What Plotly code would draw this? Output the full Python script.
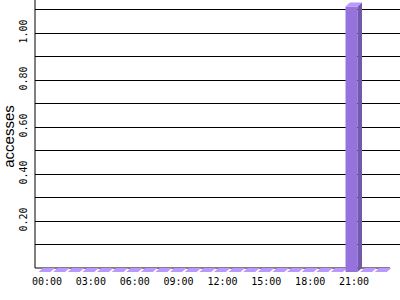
import plotly.graph_objects as go

# ---- data ----
hours = list(range(24))
accesses = [0, 0, 0, 0, 0, 0, 0, 0, 0, 0, 0, 0, 0, 0, 0, 0, 0, 0, 0, 0, 0, 1.13, 0, 0]
x_tickvals = [0, 3, 6, 9, 12, 15, 18, 21]
x_ticktext = ["00:00", "03:00", "06:00", "09:00", "12:00", "15:00", "18:00", "21:00"]
y_tickvals = [0.1, 0.2, 0.3, 0.4, 0.5, 0.6, 0.7, 0.8, 0.9, 1.0, 1.1]
y_ticktext = ["", "0.20", "", "0.40", "", "0.60", "", "0.80", "", "1.00", ""]

# ---- geometry (pixels) ----
W, H = 400, 300
ML, MR, MT, MB = 35, 0, 0, 27
PW, PH = W - ML - MR, H - MT - MB
PX_X = 14.62          # pixels per hour
PX_Y = 235.0          # pixels per access unit
x_lo = -12 / PX_X
x_hi = x_lo + PW / PX_X
y_lo = -5 / PX_Y
y_hi = y_lo + PH / PX_Y

# bar geometry in data units
fx0 = -8.5 / PX_X     # front face left (relative to hour)
fx1 = 3.5 / PX_X      # front face right
ddx = 4.5 / PX_X      # depth offset x
ddy = 4.0 / PX_Y      # depth offset y

FRONT = "rgb(150,114,221)"
SIDE = "rgb(114,89,172)"
TOP = "rgb(186,152,255)"

def poly(pts):
    return "M " + " L ".join(f"{px},{py}" for px, py in pts) + " Z"

shapes = []
for h, v in zip(hours, accesses):
    a, b = h + fx0, h + fx1
    yf0 = -ddy          # front bottom
    yf1 = v - ddy       # front top
    if v > 0:
        shapes.append(dict(type="path", xref="x", yref="y", layer="above",
                           path=poly([(a, yf0), (b, yf0), (b, yf1), (a, yf1)]),
                           fillcolor=FRONT, line=dict(width=0)))
        shapes.append(dict(type="path", xref="x", yref="y", layer="above",
                           path=poly([(b, yf0), (b + ddx, yf0 + ddy), (b + ddx, v), (b, yf1)]),
                           fillcolor=SIDE, line=dict(width=0)))
    shapes.append(dict(type="path", xref="x", yref="y", layer="above",
                       path=poly([(a, yf1), (b, yf1), (b + ddx, v), (a + ddx, v)]),
                       fillcolor=TOP, line=dict(width=0)))

# baseline and y axis line
shapes.append(dict(type="line", xref="paper", yref="y", x0=0, x1=(390 - ML) / PW,
                   y0=0, y1=0, line=dict(color="black", width=1), layer="below"))
shapes.append(dict(type="line", xref="paper", yref="y", x0=0, x1=0,
                   y0=0, y1=y_hi, line=dict(color="black", width=1), layer="below"))

fig = go.Figure()
fig.add_trace(go.Scatter(x=hours, y=accesses, mode="markers",
                         marker=dict(opacity=0), hoverinfo="skip", showlegend=False))

mono = "DejaVu Sans Mono"
fig.update_layout(
    width=W, height=H,
    margin=dict(l=ML, r=MR, t=MT, b=MB, pad=0),
    paper_bgcolor="white", plot_bgcolor="white",
    shapes=shapes,
    showlegend=False,
    xaxis=dict(range=[x_lo, x_hi], tickmode="array", tickvals=x_tickvals, ticktext=x_ticktext,
               showgrid=False, zeroline=False, showline=False, ticks="",
               ticklabelstandoff=1,
               tickfont=dict(family=mono, size=10, color="black")),
    yaxis=dict(range=[y_lo, y_hi], tickmode="array", tickvals=y_tickvals, ticktext=y_ticktext,
               showgrid=True, gridcolor="black", gridwidth=1, zeroline=False,
               showline=False, ticks="",
               tickangle=-90, ticklabelstandoff=5,
               tickfont=dict(family=mono, size=10, color="black"),
               title=dict(text="accesses", standoff=4,
                          font=dict(family="Liberation Sans", size=15, color="black"))),
)

fig.write_html("out.html")
